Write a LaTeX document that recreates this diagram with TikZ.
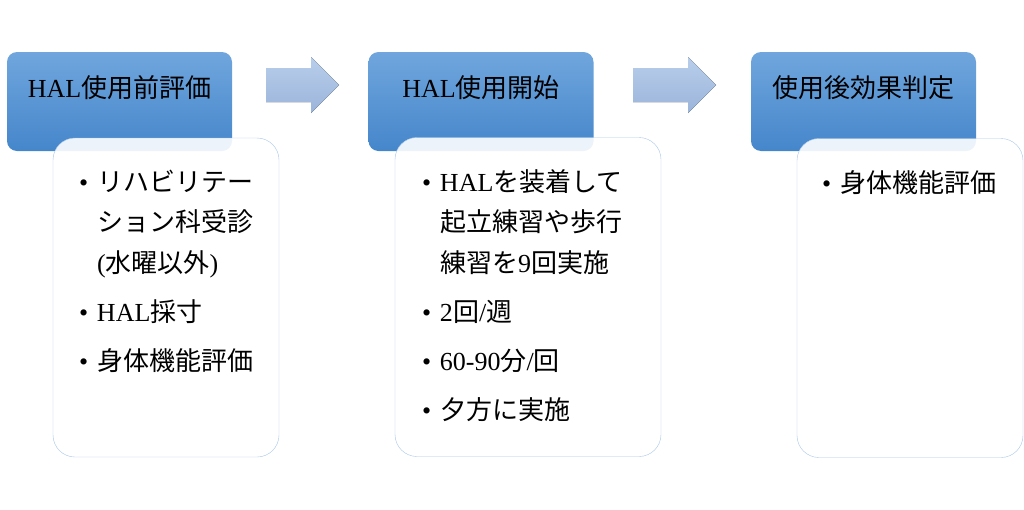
\documentclass[tikz,border=0pt]{standalone}
\usepackage{fontspec}
\setmainfont{Liberation Serif}
\newfontfamily\jpfont{Noto Sans CJK JP}
\newcommand{\jp}[1]{{\jpfont #1}}
\newcommand{\bul}{\makebox[18pt][l]{\textbullet}}
\newcommand{\hang}{\hspace*{18pt}}
\usetikzlibrary{positioning}

\definecolor{hdtop}{HTML}{70A6DD}
\definecolor{hdbot}{HTML}{4586CB}
\definecolor{arrtop}{HTML}{B8CEEB}
\definecolor{arrbot}{HTML}{9BB4DA}
\definecolor{boxline}{HTML}{A8C8EA}

\tikzset{
    header/.style={rounded corners=10pt, minimum width=225pt, minimum height=99pt,
        top color=hdtop, bottom color=hdbot, inner sep=0pt,
        text height=20pt, text depth=29pt, font=\fontsize{26}{30}\selectfont},
    content/.style={rounded corners=22pt, draw=boxline, fill=white, fill opacity=0.9,
        minimum height=319pt, inner sep=0pt},
    items/.style={align=left, inner sep=0pt, font=\fontsize{26}{40.5}\selectfont},
    blockarrow/.style={top color=arrtop, bottom color=arrbot}
}

\begin{document}
\begin{tikzpicture}[x=1pt, y=-1pt]
    \useasboundingbox (0,0) rectangle (1024,509);

    % 見出し
    \node[header] (h1) at (119.5,101.5) {HAL\jp{使用前評価}};
    \node[header] (h2) at (481,101.5) {HAL\jp{使用開始}};
    \node[header] (h3) at (863.5,101.5) {\jp{使用後効果判定}};

    % 内容の枠
    \node[content, minimum width=226pt] (c1) at (166,297.5) {};
    \node[content, minimum width=266pt] (c2) at (528,297) {};
    \node[content, minimum width=226pt] (c3) at (910,298) {};

    % 箇条書き
    \node[items, below right=32pt and 26pt of c1.north west] (t1)
        {\bul\jp{リハビリテー}\\
         \hang\jp{ション科受診}\\
         \hang(\jp{水曜以外})\\[8.5pt]
         \bul HAL\jp{採寸}\\[8.5pt]
         \bul\jp{身体機能評価}};
    \node[items, below right=32pt and 27pt of c2.north west] (t2)
        {\bul HAL\jp{を装着して}\\
         \hang\jp{起立練習や歩行}\\
         \hang\jp{練習を}9\jp{回実施}\\[8.5pt]
         \bul 2\jp{回}/\jp{週}\\[8.5pt]
         \bul 60-90\jp{分}/\jp{回}\\[8.5pt]
         \bul\jp{夕方に実施}};
    \node[items, below right=32pt and 25pt of c3.north west] (t3)
        {\bul\jp{身体機能評価}};

    % 矢印
    \fill[blockarrow] (266,68) -- (311,68) -- (311,57) -- (339,85) -- (311,113) -- (311,102) -- (266,102) -- cycle;
    \fill[blockarrow] (633,68) -- (688,68) -- (688,57) -- (716,85) -- (688,113) -- (688,102) -- (633,102) -- cycle;
\end{tikzpicture}
\end{document}
